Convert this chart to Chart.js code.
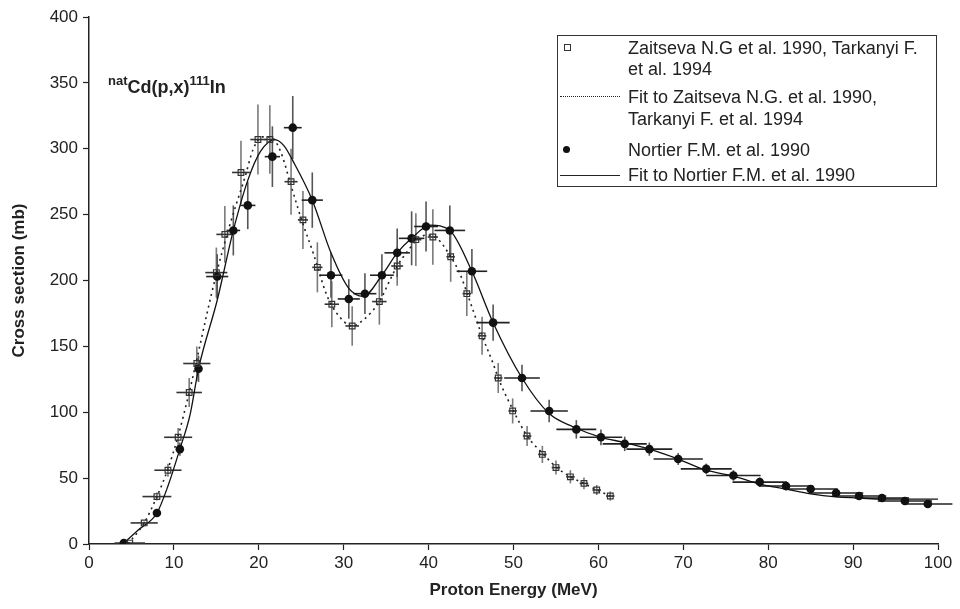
<!DOCTYPE html>
<html>
<head>
<meta charset="utf-8">
<script src="https://cdn.jsdelivr.net/npm/chart.js@4.4.1/dist/chart.umd.min.js"></script>
<style>
  body { margin: 0; background: #fff; }
  #wrap { position: relative; width: 960px; height: 609px; font-family: "Liberation Sans", Arial, sans-serif; color: #222; }
  #reaction { position: absolute; left: 108px; top: 74px; font-size: 18px; font-weight: bold; white-space: nowrap; }
  #reaction sup { font-size: 13px; position: relative; top: -1px; }
  #legend { position: absolute; left: 557px; top: 35px; width: 378px; height: 150px; border: 1px solid #333; }
  #legend .txt { position: absolute; left: 70px; font-size: 18px; line-height: 20px; white-space: nowrap; }
  #legend .sq { position: absolute; left: 6px; width: 5px; height: 5px; border: 1px solid #333; }
  #legend .dot { position: absolute; left: 6px; width: 7px; height: 7px; border-radius: 50%; background: #111; }
  #legend .dash { position: absolute; left: 2px; width: 60px; border-top: 1.6px dotted #222; }
  #legend .solid { position: absolute; left: 2px; width: 60px; border-top: 1.2px solid #222; }
</style>
</head>
<body>
<div id="wrap">
  <canvas id="chart" width="960" height="609"></canvas>
  <div id="reaction"><sup>nat</sup>Cd(p,x)<sup>111</sup>In</div>
  <div id="legend">
    <div class="sq" style="left:6px;top:8px"></div>
    <div class="txt" style="top:2px">Zaitseva N.G et al. 1990, Tarkanyi F.</div>
    <div class="txt" style="top:23px">et al. 1994</div>
    <div class="dash" style="top:60px"></div>
    <div class="txt" style="top:51px">Fit to Zaitseva N.G. et al. 1990,</div>
    <div class="txt" style="top:73px">Tarkanyi F. et al. 1994</div>
    <div class="dot" style="left:5px;top:110px"></div>
    <div class="txt" style="top:104px">Nortier F.M. et al. 1990</div>
    <div class="solid" style="top:139px"></div>
    <div class="txt" style="top:129px">Fit to Nortier F.M. et al. 1990</div>
  </div>
</div>
<script>
// Zaitseva N.G. 1990 / Tarkanyi F. 1994 measurements (MeV, mb)
var zaitEnergy = [4.8, 6.5, 8.0, 9.3, 10.5, 11.8, 12.7, 15.0, 16.0, 17.9, 19.9, 21.3, 23.8, 25.2, 26.9, 28.6, 31.0, 34.2, 36.3, 38.5, 40.5, 42.6, 44.5, 46.3, 48.2, 49.9, 51.6, 53.4, 55.0, 56.7, 58.3, 59.8, 61.4];
var zaitSigma  = [0.7, 16, 36, 56, 81, 115, 137, 206, 235, 282, 307, 307, 275, 246, 210, 182, 165.5, 184, 211, 231, 233, 218, 190, 158, 126, 101, 82, 68, 58, 51, 46, 41, 36.4];
var zaitErrE   = [1.8, 1.6, 1.7, 1.6, 1.65, 1.5, 1.6, 1.3, 1.0, 1.05, 0.9, 0.65, 0.77, 0.6, 0.6, 0.85, 0.8, 0.85, 0.7, 0.65, 0.6, 0.5, 0.5, 0.5, 0.5, 0.5, 0.5, 0.5, 0.5, 0.5, 0.5, 0.5, 0.5];
var zaitErrS   = [0, 1, 3, 5, 7, 11, 13, 19, 21.6, 24, 26.5, 26, 25, 22, 19, 17.5, 15, 17.5, 15, 20, 21, 19, 17, 14.4, 11.4, 9.5, 7.6, 6.5, 5.3, 5, 4.5, 3.8, 3.5];

// Nortier F.M. 1990 measurements
var nortEnergy = [4.1, 8.0, 10.7, 12.9, 15.1, 17.0, 18.7, 21.6, 24.0, 26.3, 28.5, 30.6, 32.5, 34.5, 36.3, 38.0, 39.7, 42.5, 45.1, 47.6, 51.0, 54.2, 57.4, 60.3, 63.1, 66.0, 69.4, 72.7, 75.9, 79.0, 82.1, 85.0, 88.0, 90.7, 93.4, 96.1, 98.8];
var nortSigma  = [0.7, 23.5, 72, 133, 203, 238, 257, 294, 316, 261, 204, 186, 190, 204, 221, 232, 241, 238, 207, 168, 126, 101, 87, 81, 76, 72, 64.5, 57, 52, 47, 44, 41.7, 38.7, 36.4, 34.9, 32.6, 30.4];
var nortErrE   = [0, 0, 0, 0.3, 1.3, 0.8, 0.9, 0.9, 1.05, 1.25, 1.35, 1.3, 1.35, 1.4, 1.5, 1.5, 1.4, 1.8, 1.8, 1.95, 2.1, 2.2, 2.35, 2.5, 2.6, 2.7, 2.9, 3.0, 3.2, 3.2, 3.2, 3.2, 3.2, 3.2, 3.2, 3.2, 2.9];
var nortErrS   = [0, 0, 5, 10, 17, 19, 18, 23, 24, 21, 17, 15, 15.5, 16, 18.5, 20.5, 19, 19, 17, 13.7, 10, 8.5, 7, 6, 5.5, 5, 4.5, 4, 4, 3.5, 3.3, 3, 3, 2.8, 2.6, 2.5, 2.3];

// fit curves
var zaitFitEnergy = [4.6, 6.5, 8.0, 9.3, 10.5, 11.8, 12.7, 13.9, 15.0, 16.4, 17.4, 18.4, 19.3, 20.4, 21.3, 22.5, 23.8, 24.6, 25.2, 26.4, 28.0, 29.2, 31.0, 32.3, 34.2, 35.5, 36.3, 37.5, 38.5, 39.8, 41.0, 42.6, 43.7, 44.5, 46.3, 47.6, 48.2, 50.0, 51.6, 53.4, 55.1, 56.7, 58.3, 59.8, 61.4];
var zaitFitSigma  = [0, 16, 36, 57, 82, 115, 140, 175, 205, 238, 259, 279, 299, 309, 309, 299, 272, 255, 243, 221, 189, 175, 165.5, 170, 184, 201, 211, 222, 230, 234.5, 232, 218, 205, 191, 158, 137, 126, 101, 82, 69, 58, 51, 46, 41, 36.4];
var nortFitEnergy = [4.0, 5.8, 8.0, 9.3, 10.7, 11.9, 12.9, 15.1, 17.0, 18.7, 20.2, 21.9, 23.0, 24.0, 26.3, 28.5, 30.6, 32.3, 34.5, 36.3, 38.0, 40.2, 42.5, 45.1, 47.6, 51.0, 54.2, 57.0, 60.3, 63.1, 66.0, 69.4, 72.7, 75.9, 79.0, 82.1, 85.0, 88.0, 90.7, 93.4, 96.1, 100.0];
var nortFitSigma  = [0, 10.6, 23.5, 44, 72, 98, 133, 185, 238, 276, 298, 307, 302, 291, 261, 221, 194, 188, 204, 221, 232, 242, 238, 207, 168, 126, 99, 89, 81, 77, 72, 64.5, 56, 51.6, 45.5, 41.7, 38, 35.7, 34.9, 34, 34, 34];

var xTicksMax = 100, yTicksMax = 400;

function points(xs, ys) {
    var out = [];
    for (var i = 0; i < xs.length; i++) out.push({x: xs[i], y: ys[i]});
    return out;
}

//draws the +/- bars under the markers
var errorBars = {
    id: 'errorBars',
    beforeDatasetsDraw: function(chart)
    {
        var ctx = chart.ctx;
        var sx = chart.scales.x, sy = chart.scales.y;
        chart.data.datasets.forEach(function(ds) {
            if (!ds.errX) return;
            ctx.save();
            ctx.lineWidth = 1.6;
            ds.data.forEach(function(p, j) {
                var px = sx.getPixelForValue(p.x);
                var py = sy.getPixelForValue(p.y);
                if (ds.errY[j] > 0) {
                    ctx.strokeStyle = ds.errColorY;
                    ctx.beginPath();
                    ctx.moveTo(px, sy.getPixelForValue(p.y - ds.errY[j]));
                    ctx.lineTo(px, sy.getPixelForValue(p.y + ds.errY[j]));
                    ctx.stroke();
                }
                if (ds.errX[j] > 0) {
                    ctx.strokeStyle = ds.errColorX;
                    ctx.beginPath();
                    ctx.moveTo(sx.getPixelForValue(p.x - ds.errX[j]), py);
                    ctx.lineTo(sx.getPixelForValue(p.x + ds.errX[j]), py);
                    ctx.stroke();
                }
            });
            ctx.restore();
        });
    }
};

var font = '"Liberation Sans", Arial, sans-serif';

new Chart(document.getElementById('chart'), {
    type: 'scatter',
    data: {
        datasets: [
            {
                label: 'Zaitseva N.G et al. 1990, Tarkanyi F. et al. 1994',
                data: points(zaitEnergy, zaitSigma),
                errX: zaitErrE, errY: zaitErrS,
                errColorX: '#333', errColorY: '#7a7a7a',
                pointStyle: 'rect', pointRadius: 4, borderWidth: 1.2,
                borderColor: '#333', backgroundColor: 'rgba(255,255,255,0)'
            },
            {
                label: 'Fit to Zaitseva N.G. et al. 1990, Tarkanyi F. et al. 1994',
                data: points(zaitFitEnergy, zaitFitSigma),
                showLine: true, pointRadius: 0, borderWidth: 1.6,
                borderColor: '#222', borderDash: [2, 4],
                cubicInterpolationMode: 'monotone'
            },
            {
                label: 'Nortier F.M. et al. 1990',
                data: points(nortEnergy, nortSigma),
                errX: nortErrE, errY: nortErrS,
                errColorX: '#222', errColorY: '#555',
                pointStyle: 'circle', pointRadius: 4.3, borderWidth: 0,
                backgroundColor: '#111'
            },
            {
                label: 'Fit to Nortier F.M. et al. 1990',
                data: points(nortFitEnergy, nortFitSigma),
                showLine: true, pointRadius: 0, borderWidth: 1.3,
                borderColor: '#111',
                cubicInterpolationMode: 'monotone'
            }
        ]
    },
    options: {
        responsive: false,
        animation: false,
        layout: { padding: { left: 0, right: 22, top: 17, bottom: 0 } },
        plugins: {
            legend: { display: false },
            tooltip: { enabled: false }
        },
        scales: {
            x: {
                type: 'linear', min: 0, max: xTicksMax,
                ticks: { stepSize: 10, color: '#222', padding: 3, maxRotation: 0, font: { family: font, size: 17 } },
                grid: { drawOnChartArea: false, tickLength: 6, color: '#222', tickWidth: 1.2 },
                border: { display: true, color: '#222', width: 1.5 },
                title: { display: true, text: 'Proton Energy (MeV)', color: '#222', padding: { top: 0, bottom: 8 }, font: { family: font, size: 17, weight: 'bold' } },
                afterFit: function(scale) { scale.height = 65; }
            },
            y: {
                min: 0, max: yTicksMax,
                ticks: { stepSize: 50, color: '#222', padding: 5, font: { family: font, size: 17 } },
                grid: { drawOnChartArea: false, tickLength: 6, color: '#222', tickWidth: 1.2 },
                border: { display: true, color: '#222', width: 1.5 },
                title: { display: true, text: 'Cross section (mb)', color: '#222', padding: { top: 9, bottom: 0 }, font: { family: font, size: 17, weight: 'bold' } },
                afterFit: function(scale) { scale.width = 89; }
            }
        }
    },
    plugins: [errorBars]
});
</script>
</body>
</html>
